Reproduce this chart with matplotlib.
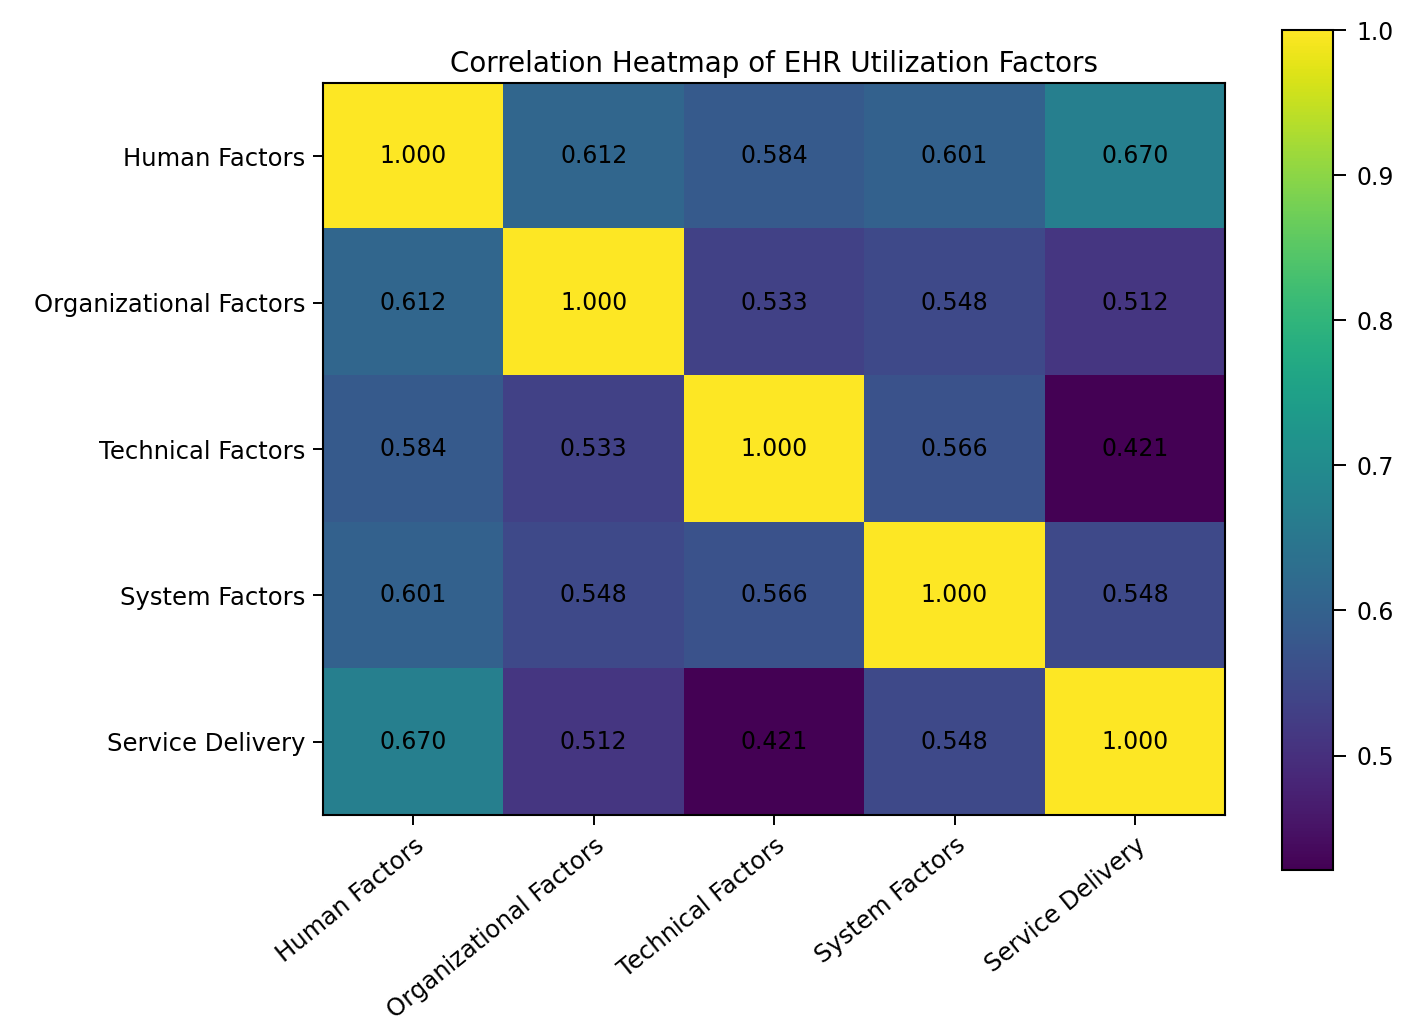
import matplotlib
matplotlib.use("Agg")
import matplotlib.pyplot as plt
import numpy as np

factors = ["Human Factors", "Organizational Factors", "Technical Factors",
           "System Factors", "Service Delivery"]

# корреляционная матрица
human = [1.000, 0.612, 0.584, 0.601, 0.670]
organizational = [0.612, 1.000, 0.533, 0.548, 0.512]
technical = [0.584, 0.533, 1.000, 0.566, 0.421]
system = [0.601, 0.548, 0.566, 1.000, 0.548]
service = [0.670, 0.512, 0.421, 0.548, 1.000]

corr = np.array([human, organizational, technical, system, service])

fig = plt.figure(figsize=(14.17, 10.36), dpi=100)
ax = fig.add_axes([0.228, 0.2133, 0.6366, 0.7066])
cax = fig.add_axes([0.9047, 0.160, 0.036, 0.811])

im = ax.imshow(corr, cmap="viridis", aspect="auto")

for i in range(len(factors)):
    for j in range(len(factors)):
        ax.text(j, i, f"{corr[i, j]:.3f}", ha="center", va="center",
                color="black", fontsize=17)

ax.set_xticks(range(len(factors)))
ax.set_yticks(range(len(factors)))
ax.set_xticklabels(factors, rotation=39, ha="right", rotation_mode="anchor",
                   fontsize=17.5)
ax.set_yticklabels(factors, fontsize=17.5)
ax.tick_params(length=7, width=1.4, pad=6)
for s in ax.spines.values():
    s.set_linewidth(1.5)

ax.set_title("Correlation Heatmap of EHR Utilization Factors", fontsize=20, pad=8)

cb = fig.colorbar(im, cax=cax)
cb.ax.tick_params(labelsize=17, length=9, width=1.4, pad=8)
cb.outline.set_linewidth(1.5)

plt.savefig("out.png", dpi=100)
plt.close(fig)
